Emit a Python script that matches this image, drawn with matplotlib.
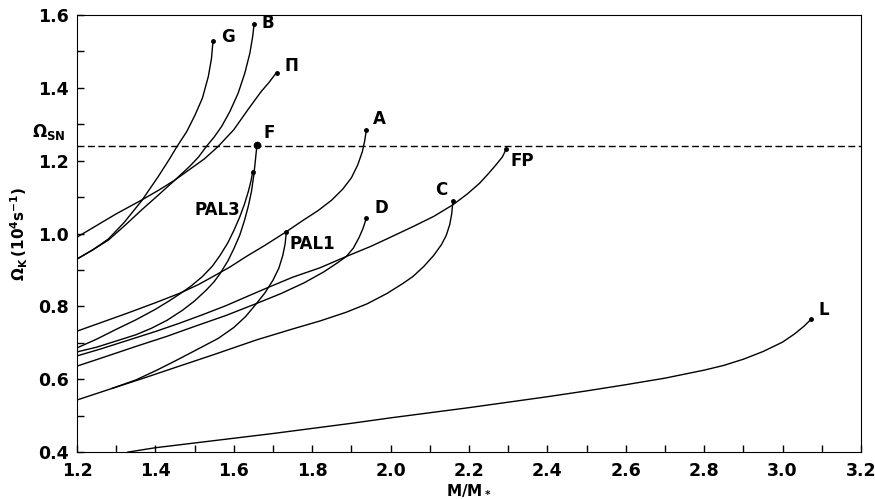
import numpy as np
import matplotlib
matplotlib.use('Agg')
import matplotlib.pyplot as plt
from matplotlib.ticker import MultipleLocator, FormatStrFormatter

plt.rcParams['font.family'] = 'DejaVu Sans'
plt.rcParams['font.weight'] = 'bold'
plt.rcParams['mathtext.default'] = 'bf'

# curves: (M/M*, Omega_K in 1e4 s^-1)
G_x = [1.2, 1.24, 1.28, 1.32, 1.365, 1.407, 1.435, 1.454, 1.48, 1.501, 1.52, 1.535, 1.543, 1.547]
G_y = [0.93, 0.955, 0.985, 1.03, 1.09, 1.156, 1.203, 1.237, 1.28, 1.325, 1.372, 1.431, 1.48, 1.529]

B_x = [1.2, 1.24, 1.28, 1.32, 1.365, 1.41, 1.45, 1.488, 1.51, 1.53, 1.55, 1.569, 1.59, 1.611,
       1.628, 1.641, 1.648, 1.652]
B_y = [0.93, 0.955, 0.982, 1.02, 1.065, 1.108, 1.147, 1.185, 1.21, 1.239, 1.265, 1.294, 1.335,
       1.385, 1.44, 1.495, 1.54, 1.576]

PI_x = [1.2, 1.25, 1.3, 1.365, 1.41, 1.45, 1.49, 1.525, 1.56, 1.6, 1.636, 1.67, 1.69, 1.709]
PI_y = [0.99, 1.022, 1.054, 1.092, 1.12, 1.147, 1.178, 1.205, 1.239, 1.285, 1.34, 1.39, 1.415, 1.442]

F_x = [1.2, 1.25, 1.3, 1.35, 1.39, 1.43, 1.47, 1.5, 1.53, 1.55, 1.565, 1.585, 1.6, 1.615,
       1.627, 1.637, 1.645, 1.651, 1.655, 1.659]
F_y = [0.675, 0.688, 0.705, 0.722, 0.74, 0.762, 0.79, 0.815, 0.845, 0.868, 0.89, 0.925, 0.958,
       0.995, 1.035, 1.075, 1.115, 1.16, 1.2, 1.243]

PAL3_x = [1.2, 1.25, 1.3, 1.35, 1.4, 1.435, 1.462, 1.49, 1.52, 1.545, 1.565, 1.585, 1.6, 1.615,
          1.627, 1.637, 1.644, 1.648]
PAL3_y = [0.686, 0.71, 0.737, 0.763, 0.792, 0.815, 0.834, 0.855, 0.882, 0.91, 0.94, 0.975, 1.008,
          1.045, 1.08, 1.115, 1.145, 1.168]

A_x = [1.2, 1.26, 1.33, 1.4, 1.462, 1.51, 1.547, 1.59, 1.632, 1.68, 1.734, 1.775, 1.815, 1.85,
       1.878, 1.9, 1.916, 1.928, 1.934, 1.938]
A_y = [0.732, 0.755, 0.782, 0.81, 0.836, 0.86, 0.882, 0.908, 0.937, 0.968, 1.005, 1.035, 1.063,
       1.092, 1.122, 1.153, 1.188, 1.225, 1.255, 1.283]

FP_x = [1.2, 1.26, 1.33, 1.4, 1.462, 1.52, 1.58, 1.64, 1.692, 1.75, 1.82, 1.887, 1.95, 2.0,
        2.057, 2.11, 2.159, 2.195, 2.227, 2.25, 2.27, 2.285, 2.295]
FP_y = [0.664, 0.683, 0.707, 0.731, 0.754, 0.777, 0.802, 0.83, 0.854, 0.88, 0.906, 0.937, 0.965,
        0.99, 1.019, 1.047, 1.079, 1.108, 1.138, 1.165, 1.19, 1.21, 1.232]

D_x = [1.2, 1.27, 1.35, 1.43, 1.5, 1.58, 1.658, 1.72, 1.78, 1.83, 1.865, 1.887, 1.905, 1.92,
       1.93, 1.938]
D_y = [0.636, 0.661, 0.69, 0.718, 0.745, 0.775, 0.808, 0.835, 0.865, 0.895, 0.92, 0.937, 0.96,
       0.99, 1.015, 1.042]

C_x = [1.2, 1.29, 1.37, 1.45, 1.55, 1.658, 1.75, 1.82, 1.887, 1.94, 1.99, 2.03, 2.057, 2.085,
       2.11, 2.13, 2.142, 2.151, 2.156, 2.159]
C_y = [0.543, 0.575, 0.603, 0.632, 0.668, 0.708, 0.738, 0.76, 0.784, 0.807, 0.835, 0.862, 0.882,
       0.91, 0.94, 0.97, 0.995, 1.025, 1.055, 1.09]

PAL1_x = [1.29, 1.35, 1.4, 1.45, 1.5, 1.56, 1.6, 1.63, 1.658, 1.68, 1.7, 1.715, 1.725, 1.731, 1.734]
PAL1_y = [0.575, 0.598, 0.623, 0.65, 0.678, 0.712, 0.742, 0.772, 0.808, 0.838, 0.872, 0.905,
          0.94, 0.972, 1.005]

L_x = [1.33, 1.4, 1.5, 1.6, 1.7, 1.8, 1.9, 2.0, 2.1, 2.2, 2.3, 2.4, 2.5, 2.6, 2.7, 2.8, 2.85,
       2.9, 2.95, 3.0, 3.03, 3.055, 3.073]
L_y = [0.40, 0.412, 0.425, 0.438, 0.451, 0.465, 0.479, 0.494, 0.508, 0.522, 0.537, 0.552, 0.568,
       0.585, 0.603, 0.625, 0.638, 0.655, 0.676, 0.702, 0.724, 0.746, 0.765]

omega_sn = 1.24

curves = [
    (G_x, G_y, 'G', (6, -4), 'left'),
    (B_x, B_y, 'B', (5, -6), 'left'),
    (PI_x, PI_y, 'Π', (6, -2), 'left'),
    (F_x, F_y, 'F', (5, 2), 'left'),
    (PAL3_x, PAL3_y, '', (0, 0), 'left'),
    (A_x, A_y, 'A', (5, 2), 'left'),
    (FP_x, FP_y, 'FP', (3, -15), 'left'),
    (D_x, D_y, 'D', (6, 1), 'left'),
    (C_x, C_y, 'C', (-4, 1), 'right'),
    (PAL1_x, PAL1_y, '', (0, 0), 'left'),
    (L_x, L_y, 'L', (5, 0), 'left'),
]

fig = plt.figure(figsize=(8.75, 4.99), dpi=100)
ax = fig.add_axes([0.088, 0.094, 0.896, 0.876])

for xs, ys, lab, off, ha in curves:
    ax.plot(xs, ys, color='black', lw=1.0)
    ms = 4.5 if lab == 'F' else 2.5
    ax.plot(xs[-1], ys[-1], 'o', color='black', ms=ms)
    if lab:
        ax.annotate(lab, (xs[-1], ys[-1]), xytext=off, textcoords='offset points',
                    ha=ha, va='bottom', fontsize=12, fontweight='bold')

ax.text(1.50, 1.065, 'PAL3', fontsize=12, fontweight='bold', va='center')
ax.text(1.743, 0.971, 'PAL1', fontsize=12, fontweight='bold', va='center')

ax.axhline(omega_sn, color='black', lw=1.0, ls=(0, (5, 2.5)))
ax.text(-0.015, omega_sn + 0.012, r'$\Omega_{SN}$', transform=ax.get_yaxis_transform(),
        ha='right', va='bottom', fontsize=12)

ax.set_xlim(1.2, 3.2)
ax.set_ylim(0.4, 1.6)
ax.xaxis.set_major_locator(MultipleLocator(0.2))
ax.xaxis.set_minor_locator(MultipleLocator(0.1))
ax.yaxis.set_major_locator(MultipleLocator(0.2))
ax.yaxis.set_minor_locator(MultipleLocator(0.1))
ax.tick_params(which='both', direction='in', labelsize=12.5, width=1, length=5)
ax.tick_params(axis='x', pad=7)
ax.tick_params(axis='y', pad=6)
for lbl in ax.get_xticklabels() + ax.get_yticklabels():
    lbl.set_fontweight('bold')
ax.xaxis.set_major_formatter(FormatStrFormatter('%.1f'))
ax.yaxis.set_major_formatter(FormatStrFormatter('%.1f'))

ax.set_xlabel(r'M/M$_*$', fontsize=11, fontweight='bold', labelpad=2)
ax.set_ylabel(r'$\Omega_K\,(10^4 s^{-1})$', fontsize=11, labelpad=6)

fig.savefig('out.png', dpi=100)
